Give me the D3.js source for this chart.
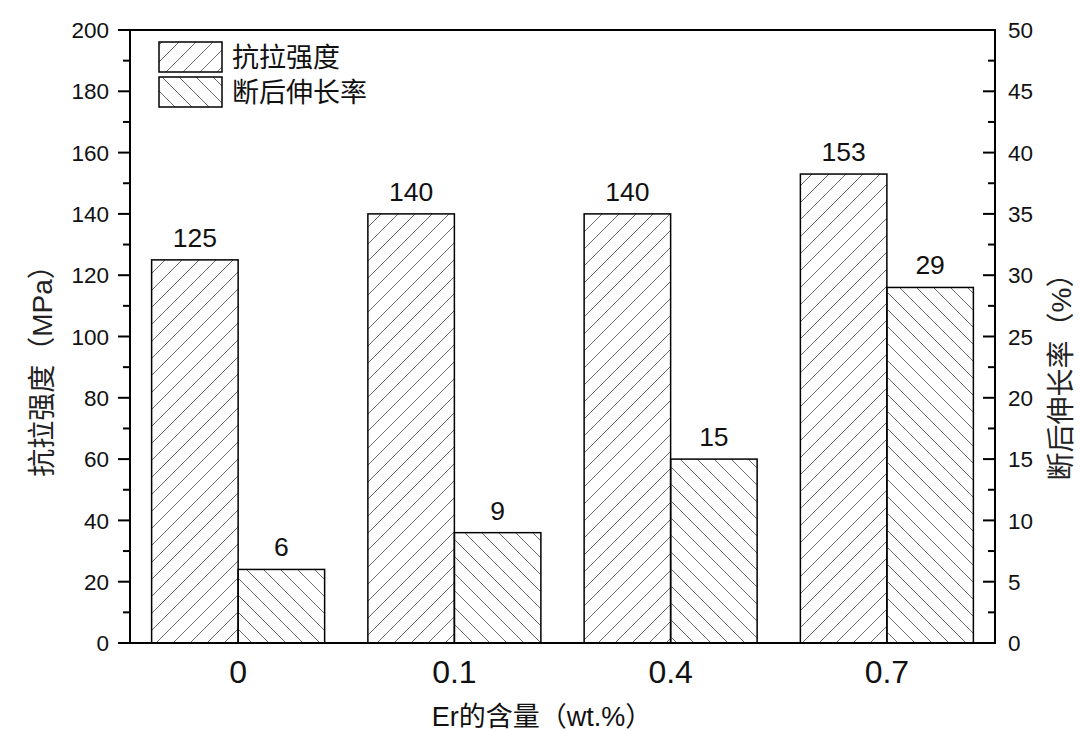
<!DOCTYPE html>
<html><head><meta charset="utf-8">
<script src="https://cdn.jsdelivr.net/npm/d3@7"></script>
<style>
body{margin:0;background:#fff;}
svg{display:block;font-family:"Liberation Sans","Noto Sans CJK SC",Arial,sans-serif;}
</style></head>
<body><svg id="c" width="1080" height="731"></svg>
<script>
const categories = ["0","0.1","0.4","0.7"];
const strength = [125,140,140,153];     // 抗拉强度 MPa
const elongation = [6,9,15,29];         // 断后伸长率 %
const leftTicks = [0,20,40,60,80,100,120,140,160,180,200];
const rightTicks = [0,5,10,15,20,25,30,35,40,45,50];
const seriesNames = ["抗拉强度","断后伸长率"];

const svg = d3.select("#c");
const L=130, R=995, T=30, B=643;
const x = d3.scaleBand().domain(categories).range([L,R]).paddingInner(0.2).paddingOuter(0.1);
const yL = d3.scaleLinear().domain([0,200]).range([B,T]);
const yR = d3.scaleLinear().domain([0,50]).range([B,T]);

const defs = svg.append("defs");
function hatch(id, forward){
  const s=17;
  const p = defs.append("pattern").attr("id",id).attr("patternUnits","userSpaceOnUse")
    .attr("width",s).attr("height",s);
  const d = forward ? `M0,${s} L${s},0 M-4,4 L4,-4 M${s-4},${s+4} L${s+4},${s-4}`
                    : `M0,0 L${s},${s} M-4,${s-4} L4,${s+4} M${s-4},-4 L${s+4},4`;
  p.append("path").attr("d",d).attr("stroke","#6a6a6a").attr("stroke-width",1).attr("fill","none");
}
hatch("h1",true); hatch("h2",false);

const bw = x.bandwidth()/2;
const g = svg.append("g");
g.selectAll(".b1").data(strength).join("rect")
  .attr("x",(d,i)=>x(categories[i])).attr("y",d=>yL(d))
  .attr("width",bw).attr("height",d=>B-yL(d))
  .attr("fill","url(#h1)").attr("stroke","#000").attr("stroke-width",1.5);
g.selectAll(".b2").data(elongation).join("rect")
  .attr("x",(d,i)=>x(categories[i])+bw).attr("y",d=>yR(d))
  .attr("width",bw).attr("height",d=>B-yR(d))
  .attr("fill","url(#h2)").attr("stroke","#000").attr("stroke-width",1.5);

// value labels
g.selectAll(".v1").data(strength).join("text")
  .attr("x",(d,i)=>x(categories[i])+bw/2).attr("y",d=>yL(d)-13)
  .attr("text-anchor","middle").attr("font-size",26.5).attr("fill","#111").text(d=>d);
g.selectAll(".v2").data(elongation).join("text")
  .attr("x",(d,i)=>x(categories[i])+bw*1.5).attr("y",d=>yR(d)-13)
  .attr("text-anchor","middle").attr("font-size",26.5).attr("fill","#111").text(d=>d);

// left axis
const minorL = d3.range(10,200,20);
const axL = svg.append("g");
axL.selectAll(".mj").data(leftTicks).join("line")
  .attr("x1",L-12).attr("x2",L).attr("y1",d=>yL(d)).attr("y2",d=>yL(d)).attr("stroke","#000").attr("stroke-width",2);
axL.selectAll(".mn").data(minorL).join("line")
  .attr("x1",L-7).attr("x2",L).attr("y1",d=>yL(d)).attr("y2",d=>yL(d)).attr("stroke","#000").attr("stroke-width",2);
axL.selectAll("text").data(leftTicks).join("text")
  .attr("x",L-21).attr("y",d=>yL(d)).attr("dy","0.36em").attr("text-anchor","end")
  .attr("font-size",22.5).attr("fill","#111").text(d=>d);

// right axis
const minorR = d3.range(2.5,50,5);
const axR = svg.append("g");
axR.selectAll(".mj").data(rightTicks).join("line")
  .attr("x1",R-12).attr("x2",R).attr("y1",d=>yR(d)).attr("y2",d=>yR(d)).attr("stroke","#000").attr("stroke-width",2);
axR.selectAll(".mn").data(minorR).join("line")
  .attr("x1",R-7).attr("x2",R).attr("y1",d=>yR(d)).attr("y2",d=>yR(d)).attr("stroke","#000").attr("stroke-width",2);
axR.selectAll("text").data(rightTicks).join("text")
  .attr("x",R+13).attr("y",d=>yR(d)).attr("dy","0.36em").attr("text-anchor","start")
  .attr("font-size",22.5).attr("fill","#111").text(d=>d);

// frame
svg.append("rect").attr("x",L).attr("y",T).attr("width",R-L).attr("height",B-T)
  .attr("fill","none").attr("stroke","#000").attr("stroke-width",2);

// x tick labels
svg.selectAll(".xl").data(categories).join("text")
  .attr("x",d=>x(d)+x.bandwidth()/2).attr("y",683)
  .attr("text-anchor","middle").attr("font-size",32).attr("fill","#111").text(d=>d);

// titles
svg.append("text").attr("x",542).attr("y",726).attr("text-anchor","middle")
  .attr("font-size",27).attr("fill","#111").text("Er的含量（wt.%）");
svg.append("text").attr("transform","translate(52,364) rotate(-90)").attr("text-anchor","middle")
  .attr("font-size",28).attr("fill","#222").text("抗拉强度（MPa）");
svg.append("text").attr("transform","translate(1071,370) rotate(-90)").attr("text-anchor","middle")
  .attr("font-size",28).attr("fill","#222").text("断后伸长率（%）");

// legend
const leg = svg.append("g");
seriesNames.forEach((n,i)=>{
  const y0 = 42 + i*35;
  leg.append("rect").attr("x",159).attr("y",y0).attr("width",63).attr("height",30)
    .attr("fill",i===0?"url(#h1)":"url(#h2)").attr("stroke","#000").attr("stroke-width",1.5);
  leg.append("text").attr("x",232).attr("y",y0+15).attr("dy","0.36em")
    .attr("font-size",27).attr("fill","#111").text(n);
});
</script></body></html>
